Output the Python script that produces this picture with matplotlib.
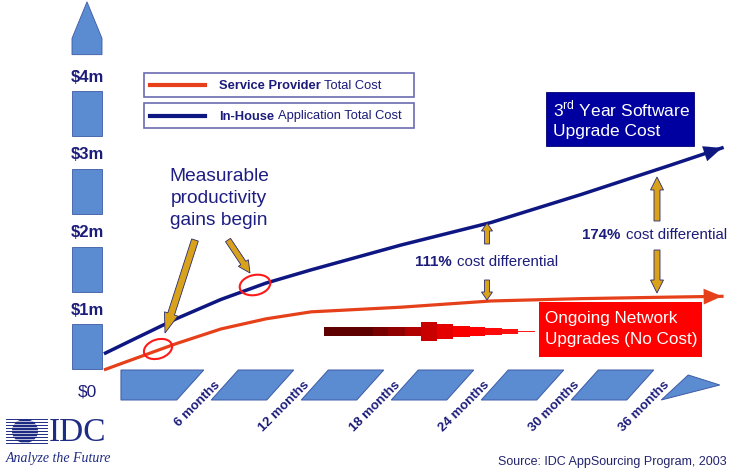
import matplotlib
matplotlib.use('Agg')
import matplotlib.pyplot as plt
import matplotlib.patches as mpatches
import matplotlib.transforms as mtransforms

plt.rcParams['font.family'] = ['Liberation Sans', 'DejaVu Sans']
plt.rcParams['mathtext.fontset'] = 'custom'
plt.rcParams['mathtext.rm'] = 'Liberation Sans'

# cumulative cost ($m) against months
months = [-1.7, 0, 3, 6, 9, 12, 18, 24, 30, 36, 39.4]
inhouse_cost = [0.45, 0.61, 0.89, 1.14, 1.35, 1.52, 1.84, 2.13, 2.49, 2.87, 3.09]
provider_cost = [0.24, 0.36, 0.57, 0.76, 0.89, 0.98, 1.04, 1.12, 1.15, 1.17, 1.18]

tick_months = [6, 12, 18, 24, 30, 36]
tick_labels = ['6 months', '12 months', '18 months', '24 months', '30 months', '36 months']
cost_ticks = [0, 1, 2, 3, 4]
cost_labels = ['$0', '$1m', '$2m', '$3m', '$4m']

NAVY = '#1c1c7a'
BLUE = '#0e1682'
RED = '#e6401a'
GOLD = '#d9a21b'
BLOCK = '#5b8bd0'
BLOCK_EDGE = '#3d5aa6'
LOGO = '#1f2c84'

W, H = 732, 471
fig = plt.figure(figsize=(W / 100, H / 100), dpi=100)
ax = fig.add_axes([0, 0, 1, 1])
ax.axis('off')
# pixel layout: month 0 at x=131, 15 px per month; $0 at y=388, 77.7 px per $1m
ax.set_xlim((0 - 131) / 15, (W - 131) / 15)
ax.set_ylim((388 - H) / 77.7, 388 / 77.7)
ax.set_autoscale_on(False)

px = mtransforms.Affine2D().scale(1 / W, -1 / H).translate(0, 1) + fig.transFigure
x_data_y_px = mtransforms.blended_transform_factory(ax.transData, px)
x_px_y_data = mtransforms.blended_transform_factory(px, ax.transData)

# ---- y axis: segmented arrow with labels
for k in cost_ticks[:-1]:
    ax.add_patch(mpatches.Rectangle((72, k + 0.24), 30, 0.58, transform=x_px_y_data,
                                    fc=BLOCK, ec=BLOCK_EDGE, lw=0.6))
ax.add_patch(mpatches.Polygon([(72, 4.29), (102, 4.29), (102, 4.50), (87, 4.97), (72, 4.50)],
                              closed=True, transform=x_px_y_data, fc=BLOCK, ec=BLOCK_EDGE, lw=0.6))
for v, lab in zip(cost_ticks, cost_labels):
    ax.text(87, v - (0.05 if v == 0 else 0), lab, transform=x_px_y_data, ha='center', va='center',
            fontsize=12.5 if v == 0 else 12, fontweight='normal' if v == 0 else 'bold', color=NAVY)

# ---- x axis: slanted blocks with month labels in the gaps
GAP, SLANT, TOP, BOT = 1.15, 1.8, 370, 400
blocks = [[(-0.67, TOP), (tick_months[0] - GAP, TOP), (tick_months[0] - GAP - SLANT, BOT), (-0.67, BOT)]]
for a, b in zip(tick_months[:-1], tick_months[1:]):
    blocks.append([(a + GAP, TOP), (b - GAP, TOP), (b - GAP - SLANT, BOT), (a + GAP - SLANT, BOT)])
last = tick_months[-1]
blocks.append([(last + GAP, 375), (last + GAP + 2.1, 385), (last + GAP - SLANT, BOT)])
for poly in blocks:
    ax.add_patch(mpatches.Polygon(poly, closed=True, transform=x_data_y_px, fc=BLOCK, ec=BLOCK_EDGE, lw=0.7))
for m, lab in zip(tick_months, tick_labels):
    ax.text(m - 0.2, 383, lab, transform=x_data_y_px, rotation=45, rotation_mode='anchor',
            ha='right', va='center', fontsize=9.5, fontweight='bold', color=NAVY)

# ---- cost curves
ax.plot(months, inhouse_cost, color=BLUE, lw=2.5, zorder=4)
ax.plot(months, provider_cost, color=RED, lw=2.3, zorder=4)
for ys, c in [(inhouse_cost, BLUE), (provider_cost, RED)]:
    ax.annotate('', xy=(months[-1], ys[-1]), xytext=(months[-2], ys[-2]), zorder=5,
                arrowprops=dict(arrowstyle='-|>,head_length=0.65,head_width=0.28', mutation_scale=20,
                                color=c, lw=0.1, shrinkA=0, shrinkB=0))

# ---- legend
r = fig.canvas.get_renderer()
for y0, hgt, c, bold, rest in [(73, 24, RED, 'Service Provider', 'Total Cost'),
                               (103, 25, BLUE, 'In-House', 'Application Total Cost')]:
    ax.add_patch(mpatches.Rectangle((144, y0), 270, hgt, transform=px, fill=False, ec='#6b6bb0', lw=1.2))
    ax.plot([150, 205], [y0 + hgt / 2, y0 + hgt / 2], transform=px, color=c, lw=3)
    base = y0 + hgt / 2 + 4
    t = ax.text(219, base, bold, transform=px, fontsize=9.3, fontweight='bold', color=NAVY, va='baseline')
    x2 = 219 + t.get_window_extent(r).width + 3.5
    ax.text(x2, base, rest, transform=px, fontsize=9.3, color=NAVY, va='baseline')

# ---- annotation boxes
ax.add_patch(mpatches.Rectangle((546, 92), 148, 54, transform=px, fc='#0000a0', ec='#000070', lw=0.6))
ax.text(553, 116, '3$^{\\mathrm{rd}}$ Year Software', transform=px, color='white', fontsize=12.5, va='baseline')
ax.text(553, 136, 'Upgrade Cost', transform=px, color='white', fontsize=12.5, va='baseline')

ax.add_patch(mpatches.Rectangle((539, 302), 163, 55, transform=px, fc='#ff0000', ec='none', zorder=3))
ax.text(545, 323, 'Ongoing Network', transform=px, color='white', fontsize=12.3, va='baseline', zorder=6)
ax.text(545, 344, 'Upgrades (No Cost)', transform=px, color='white', fontsize=12.3, va='baseline', zorder=6)

# tapered red streak
streak = [(324, 373, 9.3, '#5e0000'), (373, 388, 9.3, '#780000'), (388, 405, 9.3, '#900000'),
          (405, 421, 9.3, '#b00000'), (421, 437, 19, '#c80000'), (437, 453, 15, '#e40000'),
          (453, 470, 11.7, '#f80000'), (470, 485, 9, '#ff0000'), (485, 502, 6.7, '#ff0a0a'),
          (502, 518, 4.3, '#ff1010'), (518, 535, 1.7, '#ff1a1a')]
for x0, x1, h, c in streak:
    ax.add_patch(mpatches.Rectangle((x0, 331.5 - h / 2), x1 - x0, h, transform=px, fc=c, ec='none'))

# ---- "Measurable productivity gains begin"
for yb, line in zip([181, 203, 225], ['Measurable', 'productivity', 'gains begin']):
    ax.text(219, yb, line, transform=px, ha='center', va='baseline', fontsize=13.8, color='#1e1e82')


def gold_arrow(x0, y0, x1, y1, w, hw, hl):
    ax.add_patch(mpatches.FancyArrow(x0, y0, x1 - x0, y1 - y0, width=w, head_width=hw, head_length=hl,
                                     length_includes_head=True, transform=px, fc=GOLD, ec='#2a2a70',
                                     lw=0.6, zorder=6))


gold_arrow(195, 240, 165, 333, 7, 14, 20)
gold_arrow(228, 240, 250, 273, 6, 12, 12)
gold_arrow(487, 244, 487, 223, 5, 11, 8)
gold_arrow(487, 280, 487, 300, 5, 11, 8)
gold_arrow(657, 221, 657, 177, 6, 13, 13)
gold_arrow(657, 250, 657, 293, 6, 13, 13)

ax.text(452, 262, '111%', transform=px, ha='right', va='center', fontsize=10.8, fontweight='bold', color=NAVY)
ax.text(457, 262, 'cost differential', transform=px, ha='left', va='center', fontsize=10.8, color=NAVY)
ax.text(620, 235, '174%', transform=px, ha='right', va='center', fontsize=10.8, fontweight='bold', color=NAVY)
ax.text(626, 235, 'cost differential', transform=px, ha='left', va='center', fontsize=10.8, color=NAVY)

# red circles on the curves
for (cx, cy), w, h, ang in [((158, 349), 29, 19, -18), ((255, 285), 31, 20, -12)]:
    ax.add_patch(mpatches.Ellipse((cx, cy), w, h, angle=ang, transform=px, fill=False,
                                  ec='#ff1a1a', lw=1.5, zorder=6))

# ---- IDC logo and source
for yy in range(419, 444, 3):
    ax.plot([6, 47], [yy, yy], transform=px, color=LOGO, lw=0.7)
disc = mpatches.Ellipse((25, 431), 26, 24, transform=px, fc=LOGO, ec='none')
ax.add_patch(disc)
for yy in range(420, 444, 3):
    ln, = ax.plot([10, 40], [yy + 0.5, yy + 0.5], transform=px, color='white', lw=0.5)
    ln.set_clip_path(disc)
ax.text(49, 441, 'IDC', transform=px, fontsize=24, family='Liberation Serif', color=LOGO, va='baseline')
ax.text(6, 462, 'Analyze the Future', transform=px, fontsize=10, family='Liberation Serif',
        style='italic', color=LOGO, va='baseline')
ax.text(727, 462, 'Source: IDC AppSourcing Program, 2003', transform=px, ha='right', va='center',
        fontsize=9, color='#23236e')

fig.savefig('out.png', dpi=100)
